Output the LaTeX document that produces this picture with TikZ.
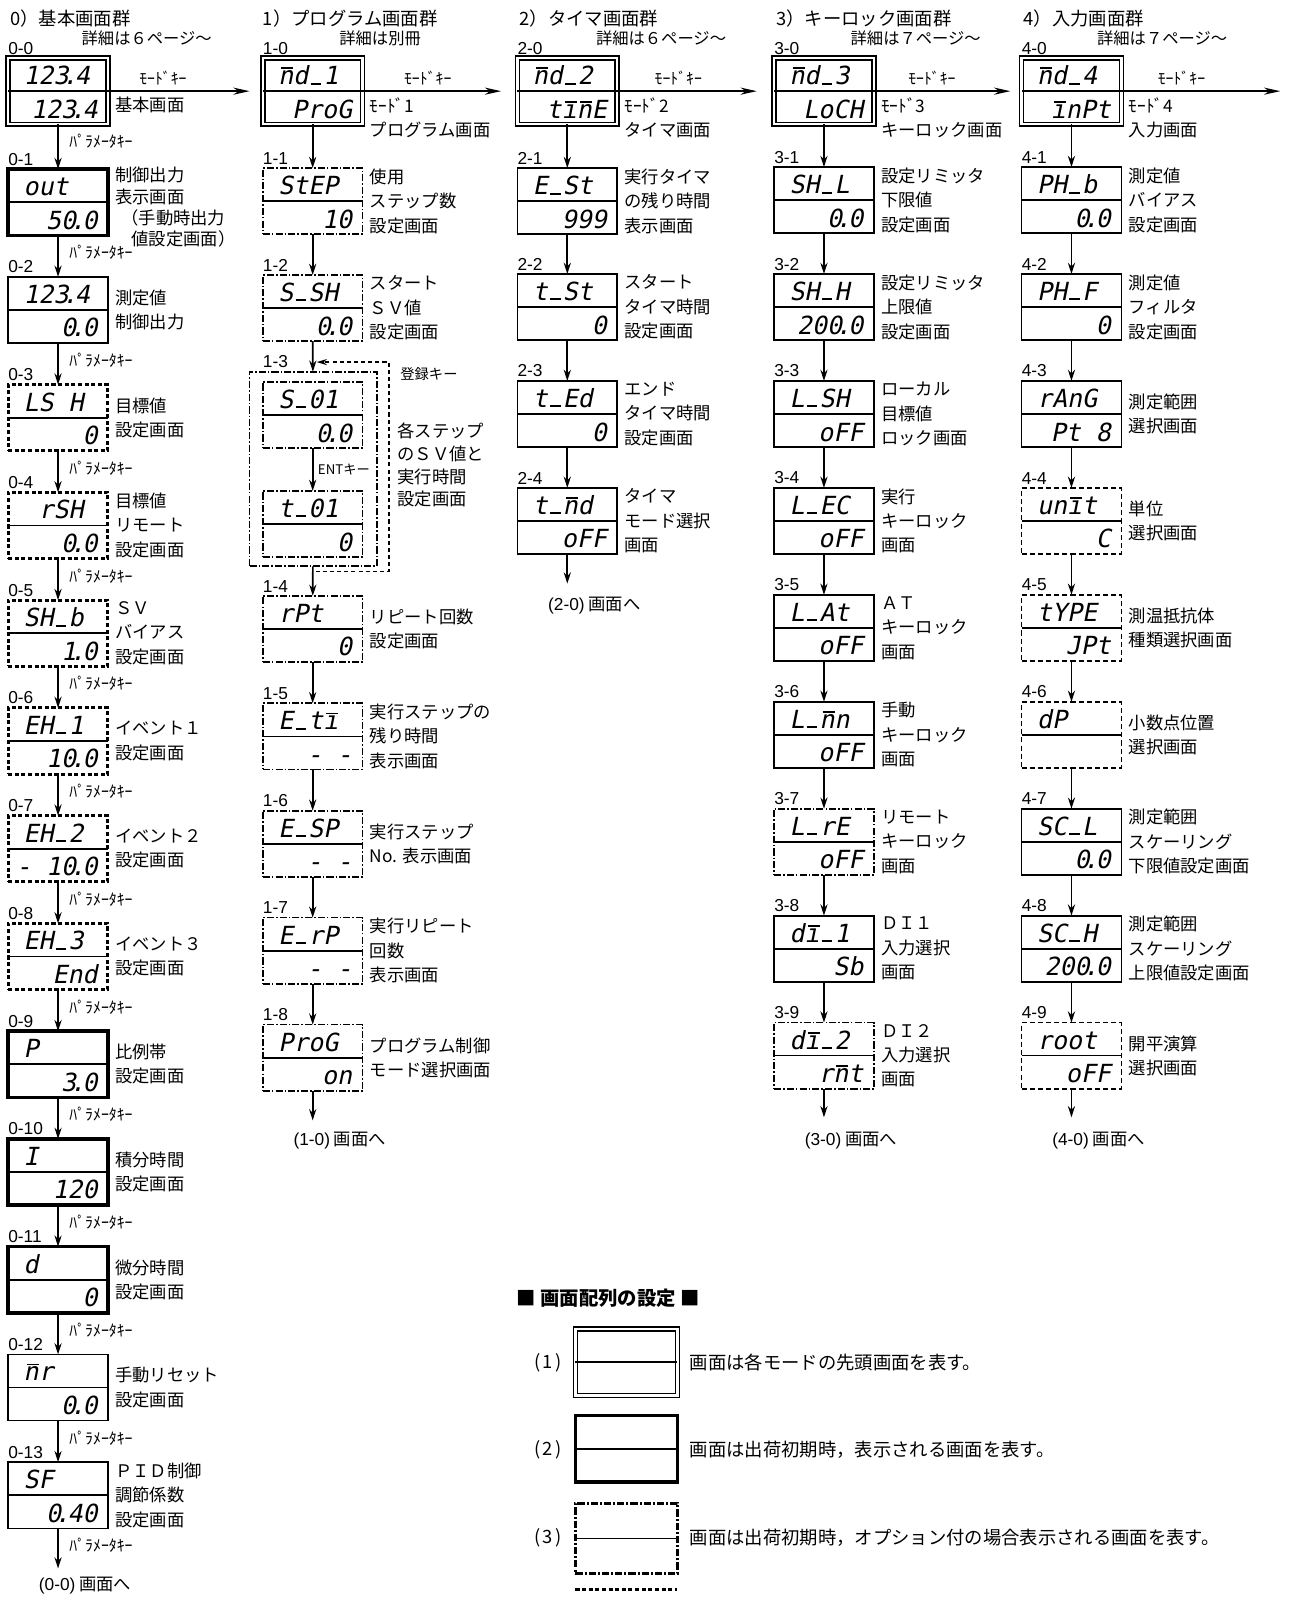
\documentclass[tikz,border=0pt]{standalone}
\usepackage{fontspec}
\setmainfont{Noto Sans CJK JP}
\newfontfamily\lblf{Liberation Sans}
\newfontfamily\segf{DejaVu Sans Mono}[FakeSlant=0.2]
\usetikzlibrary{calc,arrows.meta}
\newcommand\ovl[1]{\setbox0\hbox{#1}\rlap{\hspace{0.12em}\raisebox{0.62em}{\rule{0.8\wd0}{0.07em}}}\box0}
\newcommand\dotp{\kern-0.25em.\kern-0.1em}
\newcommand\us{\hbox to 0.602em{\hss\rule{0.42em}{0.08em}\hss}}
\newcommand\scrn[6]{%
  \node[scbox,#2,anchor=north west] (#1) at (#3,#4) {};
  \draw[smid] (#1.west) -- (#1.east);
  \node[sseg,anchor=base west] (#1t) at ($(#1.north west)+(15,26)$) {#5};
  \node[sseg,anchor=base east] (#1b) at ($(#1.north east)+(-10,59)$) {#6};
}
\newcommand\dsc[3][0]{\node[sdsc,anchor=west] (#2d) at ($(#2.east)+(7,#1)$) {#3};}
\newcommand\lab[2]{\node[slbl,anchor=south west] (#1l) at ($(#1.north west)+(0,-3.5)$) {#2};}
\newcommand\pkey[1]{\node[skey,anchor=west] (#1k) at ($(#1.south)+(11,17)$) {ﾊﾟﾗﾒｰﾀｷｰ};}
\begin{document}
\begin{tikzpicture}[x=1pt,y=-1pt,
  scbox/.style={minimum width=98pt,minimum height=65pt,inner sep=0pt,outer sep=0pt},
  shead/.style={draw,double,double distance=2.4pt,line width=1.5pt},
  sthk/.style={draw,line width=3.4pt},
  sthn/.style={draw,line width=1.7pt},
  sdot/.style={draw,line width=3pt,dash pattern=on 4pt off 2.5pt},
  sdd/.style={draw,line width=1.6pt,dash pattern=on 7pt off 2pt on 1.5pt off 2pt},
  sddk/.style={draw,line width=3pt,dash pattern=on 7pt off 2pt on 2pt off 2pt},
  sdsh/.style={draw,line width=1.6pt,dash pattern=on 5pt off 3pt},
  smid/.style={line width=1.6pt},
  sseg/.style={font=\segf\fontsize{24.5}{24.5}\selectfont,inner sep=0pt},
  sdsc/.style={font=\fontsize{17}{24}\selectfont,align=left,inner sep=0pt},
  slbl/.style={font=\lblf\fontsize{17}{17}\selectfont,inner sep=0pt},
  skey/.style={font=\fontsize{15.5}{15.5}\selectfont,inner sep=0pt},
  stitle/.style={font=\fontsize{18}{18}\selectfont,inner sep=0pt,anchor=west},
  ssub/.style={font=\fontsize{16}{16}\selectfont,inner sep=0pt,anchor=west},
  sarr/.style={line width=1.7pt,-{Stealth[length=11pt,width=7pt]}},
  smarr/.style={line width=1.7pt,-{Stealth[length=16pt,width=7pt]}},
  slp/.style={line width=1.4pt,dash pattern=on 4pt off 3pt,-{Stealth[length=10pt,width=6pt]}},
]
\path[use as bounding box,fill=white] (0,0) rectangle (1267,1568);

% titles
\node[stitle] (t0) at (10,18) {0）基本画面群};
\node[ssub] (s0) at (80,38) {詳細は６ページ～};
\node[stitle] (t1) at (258,18) {1）プログラム画面群};
\node[ssub] (s1) at (333,38) {詳細は別冊};
\node[stitle] (t2) at (510,18) {2）タイマ画面群};
\node[ssub] (s2) at (585,38) {詳細は６ページ～};
\node[stitle] (t3) at (762,18) {3）キーロック画面群};
\node[ssub] (s3) at (835,38) {詳細は７ページ～};
\node[stitle] (t4) at (1005,18) {4）入力画面群};
\node[ssub] (s4) at (1077,38) {詳細は７ページ～};

% ---------- column 0 ----------
\scrn{b00}{shead}{8}{57}{123\dotp4}{123\dotp4}
\scrn{b01}{sthk}{8}{166}{out}{50\dotp0}
\scrn{b02}{sthn}{8}{271.8}{123\dotp4}{0\dotp0}
\scrn{b03}{sdot}{8}{377.6}{LS~H}{0}
\scrn{b04}{sdot}{8}{483.4}{~rSH}{0\dotp0}
\scrn{b05}{sdot}{8}{589.2}{SH\us b}{1\dotp0}
\scrn{b06}{sdot}{8}{695}{EH\us 1}{10\dotp0}
\scrn{b07}{sdot}{8}{800.8}{EH\us 2}{-~10\dotp0}
\scrn{b08}{sdot}{8}{906.6}{EH\us 3}{End}
\scrn{b09}{sthk}{8}{1012.4}{P}{3\dotp0}
\scrn{b010}{sthk}{8}{1118.2}{I}{120}
\scrn{b011}{sthk}{8}{1224}{d}{0}
\scrn{b012}{sthn}{8}{1329.8}{\ovl{n}r}{0\dotp0}
\scrn{b013}{sthn}{8}{1435.6}{SF}{0\dotp40}
\lab{b00}{0-0}\lab{b01}{0-1}\lab{b02}{0-2}\lab{b03}{0-3}\lab{b04}{0-4}
\lab{b05}{0-5}\lab{b06}{0-6}\lab{b07}{0-7}\lab{b08}{0-8}\lab{b09}{0-9}
\lab{b010}{0-10}\lab{b011}{0-11}\lab{b012}{0-12}\lab{b013}{0-13}
\dsc[14]{b00}{基本画面}
\node[sdsc,anchor=west,font=\fontsize{17}{21}\selectfont] (b01d) at ($(b01.east)+(7,5)$) {制御出力\\表示画面\\\hspace{6pt}（手動時出力\\\hspace{16pt}値設定画面）};
\dsc{b02}{測定値\\制御出力}
\dsc{b03}{目標値\\設定画面}
\dsc{b04}{目標値\\リモート\\設定画面}
\dsc{b05}{ＳＶ\\バイアス\\設定画面}
\dsc{b06}{イベント１\\設定画面}
\dsc{b07}{イベント２\\設定画面}
\dsc{b08}{イベント３\\設定画面}
\dsc{b09}{比例帯\\設定画面}
\dsc{b010}{積分時間\\設定画面}
\dsc{b011}{微分時間\\設定画面}
\dsc{b012}{手動リセット\\設定画面}
\dsc{b013}{ＰＩＤ制御\\調節係数\\設定画面}
\coordinate (e0) at (57,1540);
\draw[sarr] (b00) -- (b01); \draw[sarr] (b01) -- (b02); \draw[sarr] (b02) -- (b03);
\draw[sarr] (b03) -- (b04); \draw[sarr] (b04) -- (b05); \draw[sarr] (b05) -- (b06);
\draw[sarr] (b06) -- (b07); \draw[sarr] (b07) -- (b08); \draw[sarr] (b08) -- (b09);
\draw[sarr] (b09) -- (b010); \draw[sarr] (b010) -- (b011); \draw[sarr] (b011) -- (b012);
\draw[sarr] (b012) -- (b013); \draw[sarr] (b013.south) -- (e0);
\pkey{b00}\pkey{b01}\pkey{b02}\pkey{b03}\pkey{b04}\pkey{b05}\pkey{b06}
\pkey{b07}\pkey{b08}\pkey{b09}\pkey{b010}\pkey{b011}\pkey{b012}\pkey{b013}
\node[sdsc,anchor=west] (r0) at (38,1557) {{\lblf (0-0)}\ 画面へ};

% ---------- column 1 ----------
\scrn{b10}{shead}{258}{57}{\ovl{n}d\us 1}{ProG}
\scrn{b11}{sdd}{258}{165}{StEP}{10}
\scrn{b12}{sdd}{258}{270}{S\us SH}{0\dotp0}
\node[scbox,sdd,minimum width=125pt,minimum height=191pt,anchor=north west] (g13) at (245,365) {};
\scrn{b131}{sdd}{258}{375}{S\us 01}{0\dotp0}
\scrn{b132}{sdd}{258}{482}{t\us 01}{0}
\scrn{b14}{sdd}{258}{585}{rPt}{0}
\scrn{b15}{sdd}{258}{690.5}{E\us t\ovl{ı}}{-~-}
\scrn{b16}{sdd}{258}{796}{E\us SP}{-~-}
\scrn{b17}{sdd}{258}{901}{E\us rP}{-~-}
\scrn{b18}{sdd}{258}{1006}{ProG}{on}
\lab{b10}{1-0}\lab{b11}{1-1}\lab{b12}{1-2}
\node[slbl,anchor=south west] (g13l) at ($(g13.north west)+(13,-3.5)$) {1-3};
\lab{b14}{1-4}\lab{b15}{1-5}\lab{b16}{1-6}\lab{b17}{1-7}\lab{b18}{1-8}
\dsc[26]{b10}{ﾓｰﾄﾞ1\\プログラム画面}
\dsc{b11}{使用\\ステップ数\\設定画面}
\dsc{b12}{スタート\\ＳＶ値\\設定画面}
\node[sdsc,anchor=west,font=\fontsize{17}{22.5}\selectfont] (g13d) at ($(g13.east)+(20,-4)$) {各ステップ\\のＳＶ値と\\実行時間\\設定画面};
\dsc{b14}{リピート回数\\設定画面}
\dsc{b15}{実行ステップの\\残り時間\\表示画面}
\dsc{b16}{実行ステップ\\No. 表示画面}
\dsc{b17}{実行リピート\\回数\\表示画面}
\dsc{b18}{プログラム制御\\モード選択画面}
\coordinate (e1) at (307,1100);
\draw[sarr] (b10) -- (b11); \draw[sarr] (b11) -- (b12); \draw[sarr] (b12) -- (g13);
\draw[sarr] (b131) -- (b132);
\node[font=\fontsize{13}{13}\selectfont,inner sep=0pt,anchor=west] (entk) at ($(b131.south)+(5,21)$) {ENTキー};
\draw[sarr] (g13) -- (b14); \draw[sarr] (b14) -- (b15); \draw[sarr] (b15) -- (b16);
\draw[sarr] (b16) -- (b17); \draw[sarr] (b17) -- (b18); \draw[sarr] (b18.south) -- (e1);
\coordinate (lpA) at (310,561); \coordinate (lpC) at (382,561);
\coordinate (lpD) at (382,355.5); \coordinate (lpB) at (311,355.5);
\draw[slp] (lpA) -- (lpC) -- (lpD) -- (lpB);
\node[font=\fontsize{14}{14}\selectfont,inner sep=0pt,anchor=west] (regk) at (393,367) {登録キー};
\node[sdsc,anchor=west] (r1) at (288,1120) {{\lblf (1-0)}\ 画面へ};

% ---------- column 2 ----------
\scrn{b20}{shead}{508}{57}{\ovl{n}d\us 2}{t\ovl{ı}\ovl{n}E}
\scrn{b21}{sthn}{508}{165}{E\us St}{999}
\scrn{b22}{sthn}{508}{269}{t\us St}{0}
\scrn{b23}{sthn}{508}{374}{t\us Ed}{0}
\scrn{b24}{sthn}{508}{479}{t\us\ovl{n}d}{oFF}
\lab{b20}{2-0}\lab{b21}{2-1}\lab{b22}{2-2}\lab{b23}{2-3}\lab{b24}{2-4}
\dsc[26]{b20}{ﾓｰﾄﾞ2\\タイマ画面}
\dsc{b21}{実行タイマ\\の残り時間\\表示画面}
\dsc{b22}{スタート\\タイマ時間\\設定画面}
\dsc{b23}{エンド\\タイマ時間\\設定画面}
\dsc{b24}{タイマ\\モード選択\\画面}
\coordinate (e2) at (557,573);
\draw[sarr] (b20) -- (b21); \draw[sarr] (b21) -- (b22); \draw[sarr] (b22) -- (b23);
\draw[sarr] (b23) -- (b24); \draw[sarr] (b24.south) -- (e2);
\node[sdsc,anchor=west] (r2) at (538,595) {{\lblf (2-0)}\ 画面へ};

% ---------- column 3 ----------
\scrn{b30}{shead}{760}{57}{\ovl{n}d\us 3}{LoCH}
\scrn{b31}{sthn}{760}{164}{SH\us L}{0\dotp0}
\scrn{b32}{sthn}{760}{269}{SH\us H}{200\dotp0}
\scrn{b33}{sthn}{760}{374}{L\us SH}{oFF}
\scrn{b34}{sthn}{760}{479}{L\us EC}{oFF}
\scrn{b35}{sthn}{760}{584}{L\us At}{oFF}
\scrn{b36}{sthn}{760}{689}{L\us\ovl{n}n}{oFF}
\scrn{b37}{sdd}{760}{794}{L\us rE}{oFF}
\scrn{b38}{sthn}{760}{899}{d\ovl{ı}\us 1}{Sb}
\scrn{b39}{sdd}{760}{1004}{d\ovl{ı}\us 2}{r\ovl{n}t}
\lab{b30}{3-0}\lab{b31}{3-1}\lab{b32}{3-2}\lab{b33}{3-3}\lab{b34}{3-4}
\lab{b35}{3-5}\lab{b36}{3-6}\lab{b37}{3-7}\lab{b38}{3-8}\lab{b39}{3-9}
\dsc[26]{b30}{ﾓｰﾄﾞ3\\キーロック画面}
\dsc{b31}{設定リミッタ\\下限値\\設定画面}
\dsc{b32}{設定リミッタ\\上限値\\設定画面}
\dsc{b33}{ローカル\\目標値\\ロック画面}
\dsc{b34}{実行\\キーロック\\画面}
\dsc{b35}{ＡＴ\\キーロック\\画面}
\dsc{b36}{手動\\キーロック\\画面}
\dsc{b37}{リモート\\キーロック\\画面}
\dsc{b38}{ＤＩ１\\入力選択\\画面}
\dsc{b39}{ＤＩ２\\入力選択\\画面}
\coordinate (e3) at (809,1097);
\draw[sarr] (b30) -- (b31); \draw[sarr] (b31) -- (b32); \draw[sarr] (b32) -- (b33);
\draw[sarr] (b33) -- (b34); \draw[sarr] (b34) -- (b35); \draw[sarr] (b35) -- (b36);
\draw[sarr] (b36) -- (b37); \draw[sarr] (b37) -- (b38); \draw[sarr] (b38) -- (b39);
\draw[sarr] (b39.south) -- (e3);
\node[sdsc,anchor=west] (r3) at (790,1120) {{\lblf (3-0)}\ 画面へ};

% ---------- column 4 ----------
\scrn{b40}{shead}{1003}{57}{\ovl{n}d\us 4}{\ovl{ı}nPt}
\scrn{b41}{sthn}{1003}{164}{PH\us b}{0\dotp0}
\scrn{b42}{sthn}{1003}{269}{PH\us F}{0}
\scrn{b43}{sthn}{1003}{374}{rAnG}{Pt~8}
\scrn{b44}{sdsh}{1003}{479}{un\ovl{ı}t}{C}
\scrn{b45}{sdsh}{1003}{584}{tYPE}{JPt}
\scrn{b46}{sdsh}{1003}{689}{dP}{}
\scrn{b47}{sthn}{1003}{794}{SC\us L}{0\dotp0}
\scrn{b48}{sthn}{1003}{899}{SC\us H}{200\dotp0}
\scrn{b49}{sdsh}{1003}{1004}{root}{oFF}
\lab{b40}{4-0}\lab{b41}{4-1}\lab{b42}{4-2}\lab{b43}{4-3}\lab{b44}{4-4}
\lab{b45}{4-5}\lab{b46}{4-6}\lab{b47}{4-7}\lab{b48}{4-8}\lab{b49}{4-9}
\dsc[26]{b40}{ﾓｰﾄﾞ4\\入力画面}
\dsc{b41}{測定値\\バイアス\\設定画面}
\dsc{b42}{測定値\\フィルタ\\設定画面}
\dsc{b43}{測定範囲\\選択画面}
\dsc{b44}{単位\\選択画面}
\dsc{b45}{測温抵抗体\\種類選択画面}
\dsc{b46}{小数点位置\\選択画面}
\dsc{b47}{測定範囲\\スケーリング\\下限値設定画面}
\dsc{b48}{測定範囲\\スケーリング\\上限値設定画面}
\dsc{b49}{開平演算\\選択画面}
\coordinate (e4) at (1052,1097);
\draw[sarr] (b40) -- (b41); \draw[sarr] (b41) -- (b42); \draw[sarr] (b42) -- (b43);
\draw[sarr] (b43) -- (b44); \draw[sarr] (b44) -- (b45); \draw[sarr] (b45) -- (b46);
\draw[sarr] (b46) -- (b47); \draw[sarr] (b47) -- (b48); \draw[sarr] (b48) -- (b49);
\draw[sarr] (b49.south) -- (e4);
\node[sdsc,anchor=west] (r4) at (1033,1120) {{\lblf (4-0)}\ 画面へ};

% ---------- mode key arrows ----------
\coordinate (m0) at (245,89.5); \coordinate (m1) at (492,89.5);
\coordinate (m2) at (743,89.5); \coordinate (m3) at (992,89.5);
\coordinate (m4) at (1257,89.5);
\draw[smarr] (b00.east) -- (m0); \draw[smarr] (b10.east) -- (m1);
\draw[smarr] (b20.east) -- (m2); \draw[smarr] (b30.east) -- (m3);
\draw[smarr] (b40.east) -- (m4);
\node[skey,anchor=south] (mk0) at (160,84) {ﾓｰﾄﾞｷｰ};
\node[skey,anchor=south] (mk1) at (420,84) {ﾓｰﾄﾞｷｰ};
\node[skey,anchor=south] (mk2) at (666,84) {ﾓｰﾄﾞｷｰ};
\node[skey,anchor=south] (mk3) at (915,84) {ﾓｰﾄﾞｷｰ};
\node[skey,anchor=south] (mk4) at (1160,84) {ﾓｰﾄﾞｷｰ};

% ---------- legend ----------
\node[font=\bfseries\fontsize{19}{19}\selectfont,inner sep=0pt,anchor=west] (lgt) at (507,1275) {■ 画面配列の設定 ■};
\node[scbox,shead,minimum width=100pt,anchor=north west] (L1) at (565,1305) {};
\draw[smid] (L1.west) -- (L1.east);
\node[scbox,sthk,minimum width=100pt,anchor=north west] (L2) at (565,1390) {};
\draw[smid] (L2.west) -- (L2.east);
\node[scbox,sddk,minimum width=100pt,minimum height=69pt,anchor=north west] (L3) at (565,1476) {};
\draw[smid] (L3.west) -- (L3.east);
\coordinate (L4a) at (565,1561); \coordinate (L4b) at (665,1561);
\draw[sdot] (L4a) -- (L4b);
\node[font=\fontsize{18}{18}\selectfont,inner sep=0pt] (L1n) at (538,1338) {(\hspace{2pt}1\hspace{2pt})};
\node[font=\fontsize{18}{18}\selectfont,inner sep=0pt] (L2n) at (538,1423) {(\hspace{2pt}2\hspace{2pt})};
\node[font=\fontsize{18}{18}\selectfont,inner sep=0pt] (L3n) at (538,1510) {(\hspace{2pt}3\hspace{2pt})};
\node[font=\fontsize{18}{18}\selectfont,inner sep=0pt,anchor=west] (L1t) at (677,1338) {画面は各モードの先頭画面を表す。};
\node[font=\fontsize{18}{18}\selectfont,inner sep=0pt,anchor=west] (L2t) at (677,1423) {画面は出荷初期時，表示される画面を表す。};
\node[font=\fontsize{18}{18}\selectfont,inner sep=0pt,anchor=west] (L3t) at (677,1510) {画面は出荷初期時，オプション付の場合表示される画面を表す。};
\end{tikzpicture}
\end{document}
